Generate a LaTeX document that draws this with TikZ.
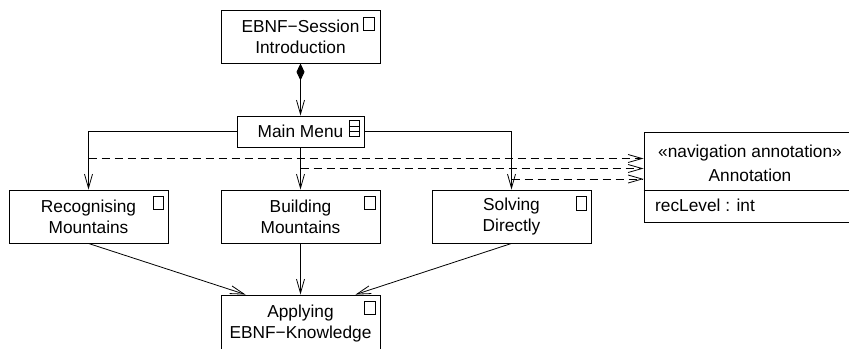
\documentclass[tikz,border=0pt]{standalone}
\usepackage{fontspec}
\setmainfont{Liberation Sans}
\usetikzlibrary{arrows.meta,calc}
\begin{document}
\begin{tikzpicture}[x=1bp,y=-1bp,
  txt/.style={font=\fontsize{17.3bp}{21bp}\selectfont, inner sep=0},
  box/.style={txt, draw, line width=0.9bp, minimum width=159bp, minimum height=53bp, align=center},
  icon/.style={draw, line width=0.7bp},
  conn/.style={line width=0.8bp},
  arr/.style={conn, -{Straight Barb[length=14bp,width=8bp,line width=0.8bp]}},
  navarr/.style={conn, dash pattern=on 8bp off 5bp, -{Straight Barb[length=14bp,width=8bp,line width=0.8bp]}},
  comp/.style={conn, {Diamond[length=17bp,width=8bp]}-{Straight Barb[length=14bp,width=8bp,line width=0.8bp]}}]
\useasboundingbox (0,0) rectangle (849,348);
\clip (0,0) rectangle (849,348);
% nodes
\node[box] (top) at (300.5,36.5) {EBNF−Session\\Introduction};
\node[box, minimum width=127bp, minimum height=31bp] (mm) at (300.5,131.5) {Main Menu};
\node[box] (rec) at (88.5,216.5) {Recognising\\Mountains};
\node[box] (bld) at (300.5,216.5) {Building\\Mountains};
\node[box] (sol) at (511.5,216.5) {Solving\\Directly};
\node[box, minimum height=60bp, text depth=7bp] (app) at (300.5,325) {Applying\\EBNF−Knowledge};
\node[draw, line width=0.9bp, minimum width=212bp, minimum height=90bp, inner sep=0] (ann) at (750,177) {};
\draw[line width=0.9bp] (ann.west |- 0,190) -- (ann.east |- 0,190);
\node[txt] (st) at (750,153) {«navigation annotation»};
\node[txt] (an) at (750,175) {Annotation};
\node[txt, anchor=west] (rl) at (655,205) {recLevel : int};
% icons
\draw[icon] ($(top.north east)+(-17,8)$) rectangle ++(11,13);
\draw[icon] ($(rec.north east)+(-15,7)$) rectangle ++(10,13);
\draw[icon] ($(bld.north east)+(-16,7)$) rectangle ++(11,13);
\draw[icon] ($(sol.north east)+(-15,7)$) rectangle ++(10,14);
\draw[icon] ($(app.north east)+(-16,7)$) rectangle ++(11,13);
\draw[icon] ($(mm.north east)+(-15,5)$) rectangle ++(10,16);
\draw[icon] ($(mm.north east)+(-15,10.5)$) -- ++(10,0);
\draw[icon] ($(mm.north east)+(-15,15.5)$) -- ++(10,0);
% connectors
\draw[comp] (top.south) -- (mm.north);
\draw[arr] (mm.west) -| (rec.north);
\draw[arr] (mm.east) -| (sol.north);
\draw[arr] (mm.south) -- (bld.north);
\coordinate (d1) at (rec.north |- 0,158.5);
\coordinate (d2) at (bld.north |- 0,168.5);
\coordinate (d3) at (sol.north |- 0,179);
\draw[navarr] (d1) -- (d1 -| ann.west);
\draw[navarr] (d2) -- (d2 -| ann.west);
\draw[navarr] (d3) -- (d3 -| ann.west);
\draw[arr] (rec.south) -- ($(app.north)+(-55,0)$);
\draw[arr] (bld.south) -- (app.north);
\draw[arr] (sol.south) -- ($(app.north)+(55,0)$);
\end{tikzpicture}
\end{document}
